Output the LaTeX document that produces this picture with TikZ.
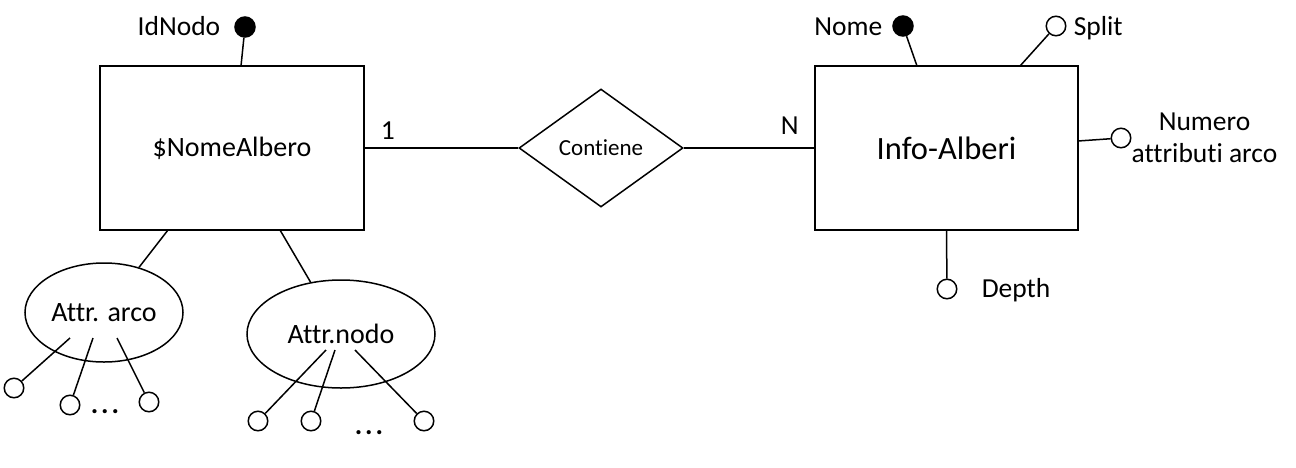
\documentclass[tikz,border=0pt]{standalone}
\usepackage{fontspec}
\setmainfont{Carlito}[RawFeature={-liga;-clig}]
\usetikzlibrary{shapes.geometric}
\begin{document}
\begin{tikzpicture}[x=1pt,y=-1pt, line width=1.5pt,
  txt/.style={inner sep=0pt, font=\fontsize{27.5}{32}\selectfont},
  dots/.style={inner sep=0pt, font=\bfseries\fontsize{28}{32}\selectfont},
  ent/.style={draw, rectangle, line width=2pt, inner sep=0pt, minimum width=264pt, minimum height=164pt, font=\fontsize{28}{32}\selectfont},
  rel/.style={draw, diamond, inner sep=0pt, minimum width=164pt, minimum height=118pt, font=\fontsize{23}{27}\selectfont},
  attrell/.style={draw, ellipse, inner sep=0pt, font=\fontsize{28}{32}\selectfont},
  keyattr/.style={draw, circle, fill=black, inner sep=0pt, minimum size=20pt},
  simpattr/.style={draw, circle, fill=white, inner sep=0pt, minimum size=19.5pt}]
\useasboundingbox (0,0) rectangle (1296,467);

% entities and relationship
\node[ent] (E1) at (232,148) {\$NomeAlbero};
\node[ent, minimum width=263pt, font=\fontsize{32.5}{38}\selectfont] (E2) at (946.5,148) {Info-Alberi};
\node[rel] (R) at (601,148) {Contiene};
\draw (E1.east) -- (R.west);
\draw (R.east) -- (E2.west);
\node[txt, anchor=base west] (card1) at (380,139) {1};
\node[txt, anchor=base west] (cardN) at (780,134) {N};

% IdNodo
\node[keyattr] (kid) at (245,27) {};
\coordinate (kidE) at (241,66);
\draw (kid) -- (kidE);
\node[txt, anchor=base east] (tid) at (221,35) {IdNodo};

% Nome
\node[keyattr] (knome) at (903,26) {};
\coordinate (knomeE) at (917,66);
\draw (knome) -- (knomeE);
\node[txt, anchor=base east] (tnome) at (883,35) {Nome};

% Split
\node[simpattr] (ssplit) at (1056,26) {};
\coordinate (ssplitE) at (1020,66);
\draw (ssplitE) -- (ssplit);
\node[txt, anchor=base west] (tsplit) at (1073,35) {Split};

% Numero attributi arco
\node[simpattr] (snum) at (1121,138) {};
\coordinate (snumE) at (1078,141);
\draw (snumE) -- (snum);
\node[txt, align=center, anchor=center] (tnum) at (1204.5,138) {Numero\\attributi arco};

% Depth
\node[simpattr] (sdep) at (947,289) {};
\draw (E2.south) -- (sdep);
\node[txt, anchor=base west] (tdep) at (981,297) {Depth};

% composite attributes
\node[attrell, minimum width=158pt, minimum height=99pt] (A1) at (104,312.5) {Attr. arco};
\node[attrell, minimum width=188pt, minimum height=108pt] (A2) at (341,334) {Attr.nodo};
\coordinate (e1a) at (168,230);
\coordinate (e1b) at (280,230);
\draw (e1a) -- (A1);
\draw (e1b) -- (A2);

% Attr. arco children
\coordinate (p1) at (70,338);
\coordinate (p2) at (93,338);
\coordinate (p3) at (117,338);
\node[simpattr] (c1) at (14,388) {};
\node[simpattr] (c2) at (70,405) {};
\node[simpattr] (c3) at (149,402) {};
\draw (p1) -- (c1);
\draw (p2) -- (c2);
\draw (p3) -- (c3);
\node[dots, anchor=base west] (d1) at (90,413) {.\kern3pt.\kern3pt.};

% Attr.nodo children
\coordinate (q1) at (326,350);
\coordinate (q2) at (335,350);
\coordinate (q3) at (355,350);
\node[simpattr] (n1) at (258,421) {};
\node[simpattr] (n2) at (311,421) {};
\node[simpattr] (n3) at (424,421) {};
\draw (q1) -- (n1);
\draw (q2) -- (n2);
\draw (q3) -- (n3);
\node[dots, anchor=base west] (d2) at (354,434) {.\kern3pt.\kern3pt.};
\end{tikzpicture}
\end{document}
